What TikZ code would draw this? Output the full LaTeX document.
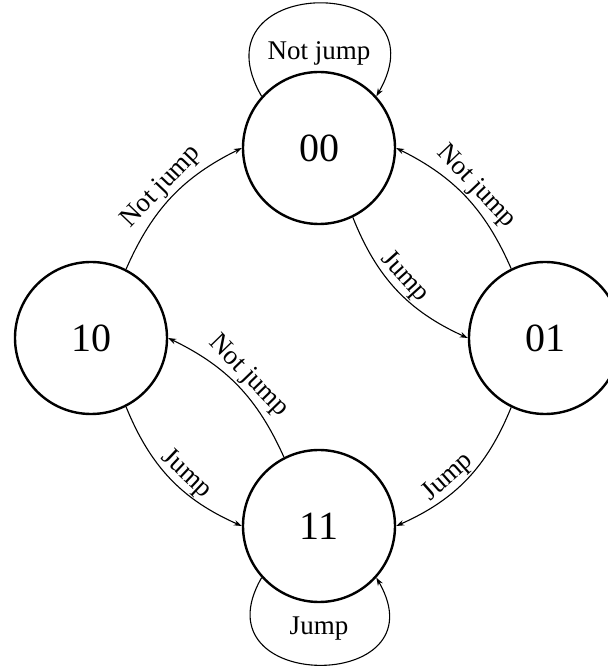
\documentclass[tikz,border=0pt]{standalone}
\usepackage{fontspec}
\setmainfont{Liberation Serif}
\usetikzlibrary{arrows.meta}
\begin{document}
\begin{tikzpicture}[x=1pt,y=1pt,
  >={Stealth[length=8pt,width=5.5pt]},
  state/.style={circle, draw, line width=2.4pt, minimum size=152pt, inner sep=0pt, font=\fontsize{40}{48}\selectfont},
  edge/.style={line width=1.1pt},
  lbl/.style={font=\fontsize{27}{32}\selectfont, inner sep=2pt},
  slbl/.style={lbl, sloped, above}]
\useasboundingbox (0,0) rectangle (608,667);
\node[state] (s00) at (319,519) {00};
\node[state] (s10) at (91,329) {10};
\node[state] (s01) at (545,329) {01};
\node[state] (s11) at (319,141) {11};
% self loops
\draw[edge,->] (s00.138) to[out=120,in=60,looseness=3.2] node[lbl, pos=0.5, yshift=-50pt] {Not jump} (s00.42);
\draw[edge,->] (s11.222) to[out=240,in=300,looseness=3.0] node[lbl, pos=0.5, yshift=36pt] {Jump} (s11.318);
% transitions
\draw[edge,->] (s10.63) to[bend left=20] node[slbl] {Not jump} (s00.180);
\draw[edge,<-] (s00.0) to[bend left=20] node[slbl] {Not jump} (s01.116);
\draw[edge,->] (s00.296) to[bend right=22] node[slbl, pos=0.47] {Jump} (s01.180);
\draw[edge,<-] (s10.0) to[bend left=20] node[slbl] {Not jump} (s11.117);
\draw[edge,->] (s10.297) to[bend right=22] node[slbl, pos=0.55] {Jump} (s11.180);
\draw[edge,<-] (s11.0) to[bend right=22] node[slbl, pos=0.42] {Jump} (s01.244);
\end{tikzpicture}
\end{document}
